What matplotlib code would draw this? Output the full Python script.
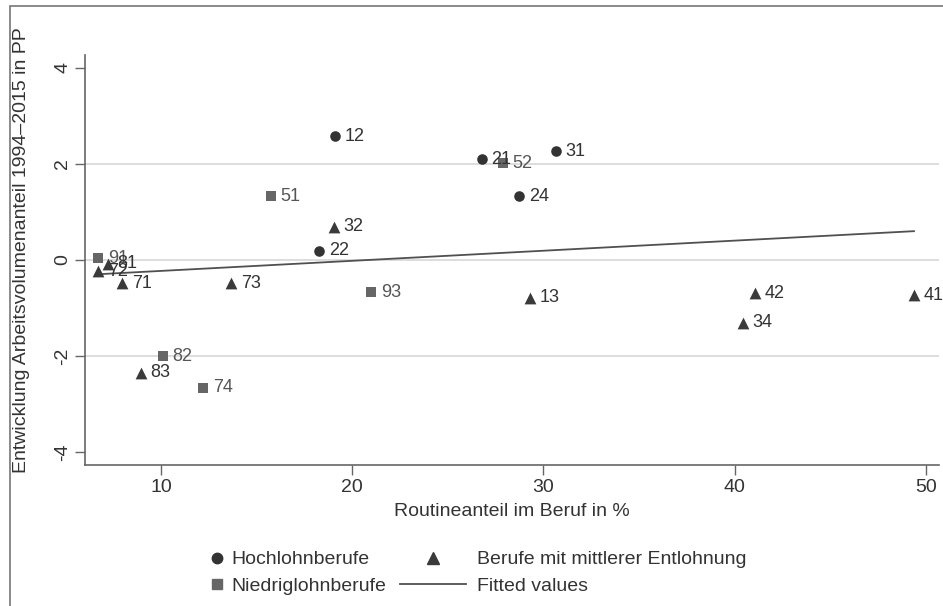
import numpy as np
import matplotlib
matplotlib.use("Agg")
import matplotlib.pyplot as plt
from matplotlib.lines import Line2D
from matplotlib.patches import Rectangle

plt.rcParams['font.family'] = ['Liberation Sans', 'DejaVu Sans']

# --- data ---
high_labels = ["12", "21", "31", "24", "22"]
high_x = [19.10, 26.78, 30.65, 28.72, 18.26]
high_y = [2.58, 2.10, 2.27, 1.33, 0.19]

low_labels = ["52", "51", "91", "93", "82", "74"]
low_x = [27.88, 15.75, 6.71, 20.98, 10.10, 12.20]
low_y = [2.02, 1.33, 0.04, -0.67, -2.00, -2.66]

mid_labels = ["32", "72", "81", "71", "73", "13", "42", "34", "41", "83"]
mid_x = [19.05, 6.71, 7.23, 7.96, 13.66, 29.29, 41.06, 40.43, 49.37, 8.95]
mid_y = [0.69, -0.23, -0.08, -0.48, -0.48, -0.79, -0.69, -1.31, -0.73, -2.35]

x_ticks = [10, 20, 30, 40, 50]
y_ticks = [-4, -2, 0, 2, 4]
grid_y = [-2, 0, 2]

series_names = ["Hochlohnberufe", "Niedriglohnberufe",
                "Berufe mit mittlerer Entlohnung", "Fitted values"]

c_high = "#333333"
c_mid = "#3a3a3a"
c_low = "#666666"
c_text = "#333333"

fig = plt.figure(figsize=(9.43, 6.06), dpi=100)
ax_w = (939 - 85) / 943
ax = fig.add_axes([85/943, 1-465/606, ax_w, (465-55)/606])

for gy in grid_y:
    ax.axhline(gy, color="#dadada", lw=1.3, zorder=0)

ax.scatter(high_x, high_y, marker="o", s=58, color=c_high, zorder=3, linewidths=0)
ax.scatter(low_x, low_y, marker="s", s=58, color=c_low, zorder=3, linewidths=0)
ax.scatter(mid_x, mid_y, marker="^", s=72, color=c_mid, zorder=3, linewidths=0)

# fitted line (OLS of all occupations)
all_x = np.array(high_x + low_x + mid_x)
all_y = np.array(high_y + low_y + mid_y)
b, a = np.polyfit(all_x, all_y, 1)
xs = np.sort(all_x)
ax.plot(xs, a + b * xs, color="#505050", lw=1.3, zorder=2)

def lab(xv, yv, ls, col):
    for x, y, l in zip(xv, yv, ls):
        ax.annotate(l, (x, y), xytext=(7, 0), textcoords="offset points",
                    va="center", ha="left", fontsize=13, color=col, zorder=4)

lab(high_x, high_y, high_labels, c_text)
lab(low_x, low_y, low_labels, "#555555")
lab(mid_x, mid_y, mid_labels, c_text)

ax.set_xlim(6.03, 50.68)
ax.set_ylim(-4.27, 4.27)
ax.set_xticks(x_ticks)
ax.set_yticks(y_ticks)
ax.set_yticklabels([str(v) for v in y_ticks], rotation=90, va="center")
ax.tick_params(axis="both", length=7, width=1, color="#666666",
               labelsize=14, labelcolor=c_text, pad=3)
for s in ["top", "right"]:
    ax.spines[s].set_visible(False)
for s in ["left", "bottom"]:
    ax.spines[s].set_color("#666666")
    ax.spines[s].set_linewidth(1.2)

ax.set_xlabel("Routineanteil im Beruf in %", fontsize=14, color=c_text, labelpad=5)
ax.set_ylabel("Entwicklung Arbeitsvolumenanteil 1994\u20132015 in PP",
              fontsize=14, color=c_text)
ax.yaxis.set_label_coords((30 - 85) / (ax_w * 943), (465 - 250) / 410)

# legends
h_high = Line2D([], [], marker="o", ls="none", color=c_high, markersize=7.5)
h_low = Line2D([], [], marker="s", ls="none", color=c_low, markersize=7.5)
h_mid = Line2D([], [], marker="^", ls="none", color=c_mid, markersize=8.5)
h_fit = Line2D([], [], color="#505050", lw=1.3)

leg1 = fig.legend([h_high, h_low], series_names[:2], loc="upper left",
                  bbox_to_anchor=(198/943, 1-541/606), frameon=False,
                  fontsize=14, handlelength=1.0, handletextpad=0.2,
                  labelspacing=0.45, borderpad=0, labelcolor=c_text)
leg2 = fig.legend([h_mid, h_fit], series_names[2:], loc="upper left",
                  bbox_to_anchor=(390/943, 1-541/606), frameon=False,
                  fontsize=14, handlelength=3.4, handletextpad=0.55,
                  labelspacing=0.45, borderpad=0, labelcolor=c_text)

# outer frame
fig.patches.append(Rectangle((10/943, -0.05), 1.1, 1-6/606 + 0.05,
                             transform=fig.transFigure, fill=False,
                             edgecolor="#777777", lw=1.2))

fig.savefig("out.png", dpi=100)
